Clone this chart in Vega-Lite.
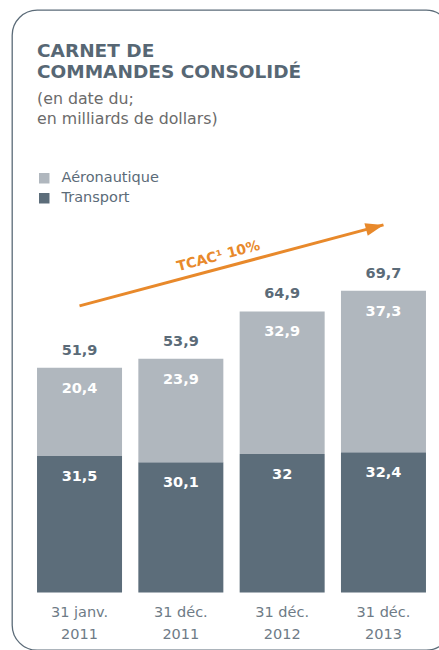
{
  "$schema": "https://vega.github.io/schema/vega-lite/v6.json",
  "width": 439,
  "height": 640,
  "autosize": {"type": "none"},
  "padding": {"left": 12, "top": 10, "right": -12, "bottom": 0},
  "background": "white",
  "config": {
    "view": {"stroke": "#5b6b78", "strokeWidth": 1.3, "cornerRadius": 25},
    "locale": {"number": {"decimal": ",", "thousands": " ", "grouping": [3], "currency": ["", " $"]}},
    "font": "DejaVu Sans"
  },
  "title": {
    "text": ["CARNET DE", "COMMANDES CONSOLIDÉ"],
    "subtitle": ["(en date du;", "en milliards de dollars)"],
    "anchor": "start",
    "frame": "group",
    "dx": 25,
    "offset": -117,
    "font": "DejaVu Sans",
    "fontSize": 18.5,
    "fontWeight": "bold",
    "color": "#576774",
    "lineHeight": 21,
    "subtitleFont": "DejaVu Sans",
    "subtitleFontSize": 15.8,
    "subtitleColor": "#6b6b6b",
    "subtitleLineHeight": 20,
    "subtitlePadding": 11
  },
  "datasets": {
    "carnet": [
      {"date": "31 janv.|2011", "serie": "Transport", "v": 31.5},
      {"date": "31 janv.|2011", "serie": "Aéronautique", "v": 20.4},
      {"date": "31 déc.|2011", "serie": "Transport", "v": 30.1},
      {"date": "31 déc.|2011", "serie": "Aéronautique", "v": 23.9},
      {"date": "31 déc.|2012", "serie": "Transport", "v": 32},
      {"date": "31 déc.|2012", "serie": "Aéronautique", "v": 32.9},
      {"date": "31 déc.|2013", "serie": "Transport", "v": 32.4},
      {"date": "31 déc.|2013", "serie": "Aéronautique", "v": 37.3}
    ],
    "totaux": [
      {"date": "31 janv.|2011", "total": 51.9},
      {"date": "31 déc.|2011", "total": 53.9},
      {"date": "31 déc.|2012", "total": 64.9},
      {"date": "31 déc.|2013", "total": 69.7}
    ],
    "fleche": [
      {"date": "31 janv.|2011", "y": 66.2, "pos": "debut"},
      {"date": "31 déc.|2013", "y": 84.9, "pos": "fin"}
    ]
  },
  "layer": [
    {
      "data": {"name": "carnet"},
      "mark": {"type": "bar"},
      "encoding": {
        "x": {
          "field": "date", "type": "nominal", "sort": null,
          "scale": {"paddingInner": 0.161, "paddingOuter": 0.247},
          "axis": {
            "title": null, "domain": false, "ticks": false, "labelAngle": 0,
            "offset": -57.5, "labelPadding": 20,
            "labelExpr": "split(datum.label, '|')",
            "labelFont": "DejaVu Sans", "labelFontSize": 14.5, "labelColor": "#6e7b86",
            "labelLineHeight": 22, "labelBaseline": "middle", "labelFontWeight": "normal"
          }
        },
        "y": {
          "field": "v", "type": "quantitative", "stack": "zero",
          "scale": {"domain": [-13.28, 134.53], "nice": false, "zero": false},
          "axis": null
        },
        "color": {
          "field": "serie", "type": "nominal",
          "scale": {"domain": ["Aéronautique", "Transport"], "range": ["#b0b7be", "#5c6d7a"]},
          "legend": {
            "title": null, "orient": "none", "legendX": 25, "legendY": 161,
            "symbolType": "square", "symbolSize": 110, "symbolStrokeWidth": 0, "symbolOpacity": 1,
            "labelFont": "DejaVu Sans", "labelFontSize": 14.5, "labelColor": "#5b6b78",
            "labelOffset": 10, "rowPadding": 5, "padding": 0
          }
        },
        "order": {"field": "serie", "sort": "descending"}
      }
    },
    {
      "data": {"name": "carnet"},
      "mark": {"type": "text", "dy": 21, "baseline": "middle", "color": "white", "fontSize": 14.5, "fontWeight": "bold", "font": "DejaVu Sans"},
      "encoding": {
        "x": {"field": "date", "type": "nominal", "sort": null},
        "y": {"field": "v", "type": "quantitative", "stack": "zero"},
        "text": {"field": "v", "type": "quantitative", "format": ".1~f"},
        "order": {"field": "serie", "sort": "descending"}
      }
    },
    {
      "data": {"name": "totaux"},
      "mark": {"type": "text", "dy": -17, "baseline": "middle", "color": "#5b6b78", "fontSize": 14.5, "fontWeight": "bold", "font": "DejaVu Sans"},
      "encoding": {
        "x": {"field": "date", "type": "nominal", "sort": null},
        "y": {"field": "total", "type": "quantitative"},
        "text": {"field": "total", "type": "quantitative", "format": ".1~f"}
      }
    },
    {
      "data": {"name": "fleche"},
      "mark": {"type": "line", "color": "#e8892b", "strokeWidth": 3},
      "encoding": {
        "x": {"field": "date", "type": "nominal", "sort": null},
        "y": {"field": "y", "type": "quantitative"}
      }
    },
    {
      "data": {"name": "fleche"},
      "transform": [{"filter": "datum.pos === 'fin'"}],
      "mark": {"type": "point", "shape": "M0,0 L-2,-0.72 L-2,0.72 Z", "size": 324, "angle": 345.1, "filled": true, "color": "#e8892b", "opacity": 1, "strokeWidth": 0},
      "encoding": {
        "x": {"field": "date", "type": "nominal", "sort": null},
        "y": {"field": "y", "type": "quantitative"}
      }
    },
    {
      "data": {"name": "fleche"},
      "transform": [{"filter": "datum.pos === 'debut'"}],
      "mark": {"type": "text", "text": "TCAC¹ 10%", "angle": 345.1, "dx": 147, "dy": -12, "align": "center", "baseline": "middle", "color": "#e8892b", "fontSize": 14, "fontWeight": "bold", "font": "DejaVu Sans"},
      "encoding": {
        "x": {"field": "date", "type": "nominal", "sort": null},
        "y": {"field": "y", "type": "quantitative"}
      }
    }
  ]
}
